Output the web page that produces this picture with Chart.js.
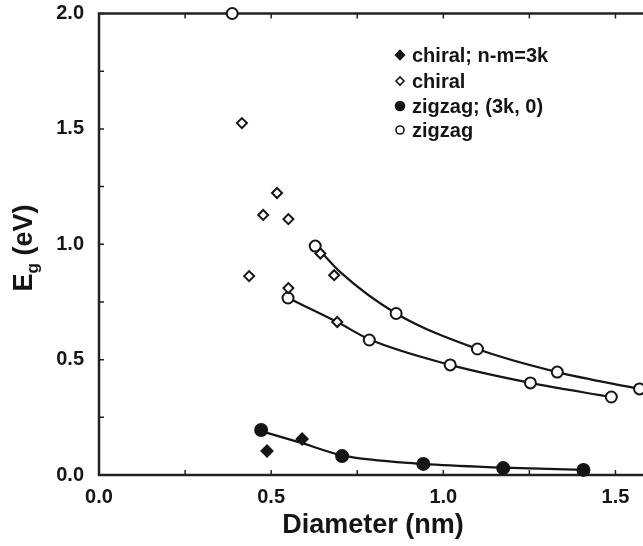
<!DOCTYPE html>
<html>
<head>
<meta charset="utf-8">
<script src="https://cdn.jsdelivr.net/npm/chart.js@4/dist/chart.umd.min.js"></script>
<style>
  html, body { margin: 0; padding: 0; background: #fff; }
  #wrap { width: 643px; height: 546px; }
</style>
</head>
<body>
<div id="wrap"><canvas id="grafica" width="643" height="546"></canvas></div>
<script>
// datos (diametro en nm, Eg en eV)
const chiral3kX = [0.488, 0.590];
const chiral3kY = [0.104, 0.156];

const chiralX = [0.415, 0.517, 0.477, 0.550, 0.436, 0.550, 0.643, 0.683, 0.692];
const chiralY = [1.525, 1.222, 1.127, 1.109, 0.862, 0.810, 0.960, 0.866, 0.663];

const zigzag3kX = [0.471, 0.706, 0.942, 1.174, 1.407];
const zigzag3kY = [0.195, 0.082, 0.048, 0.030, 0.022];

const zigzagX = [0.387, 0.628, 0.863, 1.099, 1.331, 1.570, 0.549, 0.785, 1.020, 1.253, 1.488];
const zigzagY = [2.000, 0.992, 0.700, 0.546, 0.446, 0.373, 0.767, 0.585, 0.477, 0.399, 0.338];

// curvas de ajuste (puntos leidos sobre las lineas)
const ajusteAltoX = [0.643, 0.700, 0.863, 1.099, 1.331, 1.570];
const ajusteAltoY = [0.970, 0.880, 0.700, 0.546, 0.446, 0.373];
const ajusteMedioX = [0.549, 0.692, 0.785, 1.020, 1.253, 1.488];
const ajusteMedioY = [0.767, 0.663, 0.588, 0.477, 0.399, 0.338];
const ajusteBajoX = [0.471, 0.590, 0.706, 0.942, 1.174, 1.407];
const ajusteBajoY = [0.190, 0.138, 0.085, 0.048, 0.032, 0.022];

const etiquetas = ['chiral; n-m=3k', 'chiral', 'zigzag; (3k, 0)', 'zigzag'];
const xTicks = [0.0, 0.5, 1.0, 1.5];
const yTicks = [0.0, 0.5, 1.0, 1.5, 2.0];
const X_MAX = 1.58;

const FUENTE = '"Liberation Sans", Arial, sans-serif';
const NEGRO = '#151515';

const pares = (xs, ys) => xs.map((x, i) => ({ x, y: ys[i] }));

function marcador(label, xs, ys, estilo, relleno, radio) {
  return {
    label,
    data: pares(xs, ys),
    showLine: false,
    pointStyle: estilo,
    pointRadius: radio,
    pointHoverRadius: radio,
    pointBackgroundColor: relleno,
    pointBorderColor: NEGRO,
    pointBorderWidth: 2,
    clip: false,
  };
}

function ajuste(xs, ys) {
  return {
    label: '',
    data: pares(xs, ys),
    showLine: true,
    borderColor: NEGRO,
    borderWidth: 2.2,
    pointRadius: 0,
    cubicInterpolationMode: 'monotone',
    clip: false,
  };
}

const esMultiplo = (v, paso) => Math.abs(v / paso - Math.round(v / paso)) < 1e-6;

// quitar el margen que Chart.js reserva para la primera/ultima etiqueta
function sinRelleno(s) {
  s.paddingTop = 0;
  s.paddingBottom = 0;
  s.paddingLeft = 0;
  s.paddingRight = 0;
}

// marco con ticks hacia dentro
const marco = {
  id: 'marco',
  beforeDatasetsDraw(chart) {
    const { ctx, chartArea: a, scales: { x, y } } = chart;
    ctx.save();
    ctx.strokeStyle = '#222';
    ctx.lineWidth = 1.5;
    ctx.beginPath();
    x.ticks.forEach(t => {
      if (!esMultiplo(t.value, 0.25)) return;
      const px = x.getPixelForValue(t.value);
      ctx.moveTo(px, a.bottom); ctx.lineTo(px, a.bottom - 5);
      ctx.moveTo(px, a.top); ctx.lineTo(px, a.top + 5);
    });
    y.ticks.forEach(t => {
      if (!esMultiplo(t.value, 0.25)) return;
      const py = y.getPixelForValue(t.value);
      ctx.moveTo(a.left, py); ctx.lineTo(a.left + 5, py);
    });
    ctx.stroke();

    ctx.lineWidth = 2.5;
    ctx.beginPath();
    ctx.moveTo(a.right, a.top);
    ctx.lineTo(a.left, a.top);
    ctx.lineTo(a.left, a.bottom);
    ctx.lineTo(a.right, a.bottom);
    ctx.stroke();
    ctx.restore();
  },
  afterDraw(chart) {
    const { ctx, chartArea: a } = chart;
    ctx.save();
    ctx.fillStyle = NEGRO;

    // titulo eje x
    ctx.font = 'bold 27px ' + FUENTE;
    ctx.textAlign = 'center';
    ctx.textBaseline = 'alphabetic';
    ctx.fillText('Diameter (nm)', (a.left + a.right) / 2 + 2, 533);

    // titulo eje y con subindice
    ctx.translate(32, 248);
    ctx.rotate(-Math.PI / 2);
    ctx.textAlign = 'left';
    const grande = 'bold 27px ' + FUENTE;
    const chica = 'bold 17px ' + FUENTE;
    ctx.font = grande;
    const wE = ctx.measureText('E').width;
    const wResto = ctx.measureText(' (eV)').width;
    ctx.font = chica;
    const wg = ctx.measureText('g').width;
    let x0 = -(wE + wg + wResto) / 2;
    ctx.font = grande;
    ctx.fillText('E', x0, 0);
    ctx.font = chica;
    ctx.fillText('g', x0 + wE, 6);
    ctx.font = grande;
    ctx.fillText(' (eV)', x0 + wE + wg, 0);
    ctx.restore();

    // leyenda dentro del area
    ctx.save();
    const filas = [55, 81, 106, 130];
    const estilos = [
      ['rectRot', NEGRO, 4.5],
      ['rectRot', '#fff', 4],
      ['circle', NEGRO, 4.5],
      ['circle', '#fff', 4],
    ];
    ctx.font = 'bold 20px ' + FUENTE;
    ctx.textBaseline = 'middle';
    ctx.textAlign = 'left';
    etiquetas.forEach((txt, i) => {
      const [estilo, relleno, r] = estilos[i];
      ctx.fillStyle = relleno;
      ctx.strokeStyle = NEGRO;
      ctx.lineWidth = 1.6;
      Chart.helpers.drawPoint(ctx, { pointStyle: estilo, radius: r, borderWidth: 1.6, rotation: 0 }, 400, filas[i]);
      ctx.fillStyle = NEGRO;
      ctx.fillText(txt, 412, filas[i] + 1);
    });
    ctx.restore();
  }
};

new Chart(document.getElementById('grafica'), {
  type: 'scatter',
  data: {
    datasets: [
      marcador(etiquetas[0], chiral3kX, chiral3kY, 'rectRot', NEGRO, 5.5),
      marcador(etiquetas[1], chiralX, chiralY, 'rectRot', '#fff', 5),
      marcador(etiquetas[2], zigzag3kX, zigzag3kY, 'circle', NEGRO, 6),
      marcador(etiquetas[3], zigzagX, zigzagY, 'circle', '#fff', 5.5),
      ajuste(ajusteAltoX, ajusteAltoY),
      ajuste(ajusteMedioX, ajusteMedioY),
      ajuste(ajusteBajoX, ajusteBajoY),
    ],
  },
  options: {
    responsive: false,
    animation: false,
    layout: { autoPadding: false, padding: { top: 13.5, right: 0, left: 0, bottom: 0 } },
    plugins: {
      legend: { display: false },
      tooltip: { enabled: false },
    },
    scales: {
      x: {
        type: 'linear',
        min: 0,
        max: X_MAX,
        grid: { display: false, drawTicks: false },
        border: { display: false },
        afterFit: s => { s.height = 71; sinRelleno(s); },
        afterBuildTicks: s => {
          const t = [];
          for (let v = 0; v <= 1.5001; v += 0.25) t.push({ value: +v.toFixed(2) });
          s.ticks = t;
        },
        ticks: {
          padding: 10,
          color: NEGRO,
          font: { family: FUENTE, size: 20, weight: 'bold' },
          maxRotation: 0,
          autoSkip: false,
          callback: v => xTicks.some(t => Math.abs(t - v) < 1e-6) ? v.toFixed(1) : '',
        },
      },
      y: {
        type: 'linear',
        min: 0,
        max: 2.0,
        grid: { display: false, drawTicks: false },
        border: { display: false },
        afterFit: s => { s.width = 99; sinRelleno(s); },
        afterBuildTicks: s => {
          const t = [];
          for (let v = 0; v <= 2.0001; v += 0.25) t.push({ value: +v.toFixed(2) });
          s.ticks = t;
        },
        ticks: {
          padding: 15,
          color: NEGRO,
          font: { family: FUENTE, size: 20, weight: 'bold' },
          autoSkip: false,
          callback: v => yTicks.some(t => Math.abs(t - v) < 1e-6) ? v.toFixed(1) : '',
        },
      },
    },
  },
  plugins: [marco],
});
</script>
</body>
</html>
